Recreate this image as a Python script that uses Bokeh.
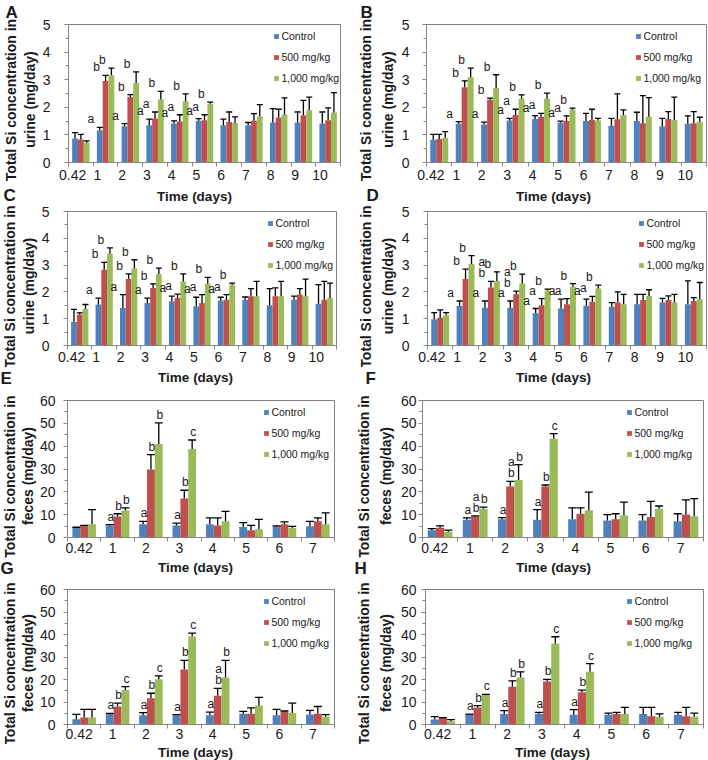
import math
from bokeh.plotting import figure
from bokeh.layouts import column, row
from bokeh.models import (ColumnDataSource, FixedTicker, SingleIntervalTicker, Label, LabelSet,
                          Legend, LegendItem, Range1d, Whisker, TeeHead, Title)
from bokeh.core.properties import value
from bokeh.embed import file_html
from bokeh.resources import INLINE

FONT = "Liberation Sans"
COLORS = ["#4F81BD", "#C0504D", "#9BBB59"]
SERIES = ["Control", "500 mg/kg", "1,000 mg/kg"]

URINE_DAYS = ["0.42", "1", "2", "3", "4", "5", "6", "7", "8", "9", "10"]
FECES_DAYS = ["0.42", "1", "2", "3", "4", "5", "6", "7"]

# ---- Panel A (urine) ----
A_ctrl = [0.87, 1.17, 1.31, 1.35, 1.41, 1.51, 1.35, 1.35, 1.45, 1.45, 1.41]
A_ctrl_sd = [0.21, 0.10, 0.10, 0.22, 0.10, 0.08, 0.22, 0.10, 0.50, 0.38, 0.42]
A_500 = [0.83, 2.95, 2.37, 1.59, 1.49, 1.53, 1.47, 1.51, 1.63, 1.71, 1.53]
A_500_sd = [0.19, 0.21, 0.09, 0.24, 0.24, 0.20, 0.36, 0.26, 0.30, 0.54, 0.45]
A_1000 = [0.72, 3.16, 2.88, 2.28, 2.22, 2.13, 1.43, 1.67, 1.73, 1.89, 1.81]
A_1000_sd = [0.06, 0.26, 0.40, 0.30, 0.27, 0.06, 0.22, 0.43, 0.61, 0.48, 0.72]
A_sig_ctrl = ["", "a", "a", "a", "a", "a", "", "", "", "", ""]
A_sig_500 = ["", "b", "b", "a", "a", "a", "", "", "", "", ""]
A_sig_1000 = ["", "b", "b", "b", "b", "b", "", "", "", "", ""]

# ---- Panel B (urine) ----
B_ctrl = [0.82, 1.40, 1.38, 1.52, 1.58, 1.44, 1.50, 1.33, 1.50, 1.30, 1.40]
B_ctrl_sd = [0.20, 0.08, 0.08, 0.08, 0.12, 0.06, 0.28, 0.27, 0.32, 0.30, 0.29]
B_500 = [0.85, 2.73, 2.27, 1.72, 1.66, 1.50, 1.54, 1.57, 1.42, 1.58, 1.42]
B_500_sd = [0.17, 0.23, 0.06, 0.21, 0.12, 0.19, 0.39, 0.92, 1.00, 0.26, 0.42]
B_1000 = [0.90, 3.09, 2.69, 2.31, 2.31, 1.91, 1.52, 1.72, 1.66, 1.54, 1.48]
B_1000_sd = [0.22, 0.33, 0.49, 0.14, 0.20, 0.06, 0.08, 0.19, 0.69, 0.83, 0.16]
B_sig_ctrl = ["", "a", "a", "a", "a", "a", "", "", "", "", ""]
B_sig_500 = ["", "b", "b", "a", "a", "a", "", "", "", "", ""]
B_sig_1000 = ["", "b", "b", "b", "b", "b", "", "", "", "", ""]

# ---- Panel C (urine) ----
C_ctrl = [0.88, 1.53, 1.40, 1.59, 1.65, 1.46, 1.67, 1.71, 1.50, 1.71, 1.56]
C_ctrl_sd = [0.47, 0.24, 0.50, 0.18, 0.19, 0.34, 0.13, 0.10, 0.62, 0.13, 0.71]
C_500 = [1.15, 2.83, 2.48, 2.15, 1.77, 1.59, 1.71, 1.84, 1.84, 1.90, 1.71]
C_500_sd = [0.07, 0.27, 0.19, 0.15, 0.15, 0.31, 0.19, 0.28, 0.31, 0.22, 0.68]
C_1000 = [1.36, 3.42, 2.87, 2.67, 2.39, 2.30, 2.27, 1.84, 1.84, 1.84, 1.77]
C_1000_sd = [0.17, 0.22, 0.33, 0.22, 0.28, 0.24, 0.06, 0.55, 0.55, 0.64, 0.56]
C_sig_ctrl = ["", "a", "a", "a", "a", "a", "a", "", "", "", ""]
C_sig_500 = ["", "b", "b", "b", "a", "a", "a", "", "", "", ""]
C_sig_1000 = ["", "b", "b", "b", "b", "b", "b", "", "", "", ""]

# ---- Panel D (urine) ----
D_ctrl = [0.98, 1.48, 1.41, 1.41, 1.20, 1.38, 1.48, 1.45, 1.54, 1.60, 1.54]
D_ctrl_sd = [0.25, 0.18, 0.25, 0.25, 0.18, 0.35, 0.25, 0.15, 0.37, 0.16, 0.87]
D_500 = [1.04, 2.48, 2.16, 1.91, 1.50, 1.54, 1.63, 1.60, 1.70, 1.70, 1.66]
D_500_sd = [0.29, 0.37, 0.23, 0.12, 0.25, 0.21, 0.20, 0.40, 0.21, 0.15, 0.13]
D_1000 = [1.13, 3.04, 2.41, 2.31, 2.05, 2.19, 2.13, 1.54, 1.85, 1.60, 1.73]
D_1000_sd = [0.10, 0.31, 0.34, 0.35, 0.05, 0.12, 0.12, 0.37, 0.23, 0.31, 0.62]
D_sig_ctrl = ["", "a", "a", "a", "a", "a", "a", "", "", "", ""]
D_sig_500 = ["", "b", "ab", "ab", "a", "a", "a", "", "", "", ""]
D_sig_1000 = ["", "b", "b", "b", "b", "b", "b", "", "", "", ""]

# ---- Panel E (feces) ----
E_ctrl = [4.3, 5.3, 5.8, 5.3, 5.8, 4.6, 4.9, 4.9]
E_ctrl_sd = [0.2, 0.3, 1.3, 1.0, 2.8, 1.9, 0.2, 2.2]
E_500 = [5.0, 9.2, 29.8, 17.1, 5.3, 3.2, 5.8, 7.1]
E_500_sd = [0.3, 1.2, 6.5, 3.6, 3.3, 2.1, 1.0, 1.5]
E_1000 = [5.8, 11.8, 41.0, 38.8, 7.1, 3.6, 4.2, 5.8]
E_1000_sd = [6.4, 1.2, 9.2, 3.9, 4.3, 4.3, 0.7, 5.0]
E_sig_ctrl = ["", "a", "a", "a", "", "", "", ""]
E_sig_500 = ["", "b", "b", "b", "", "", "", ""]
E_sig_1000 = ["", "b", "b", "c", "", "", "", ""]

# ---- Panel F (feces) ----
F_ctrl = [3.2, 7.8, 8.0, 7.8, 8.0, 7.5, 7.5, 7.1]
F_ctrl_sd = [0.7, 0.8, 0.7, 4.4, 5.0, 2.5, 2.5, 3.3]
F_500 = [4.3, 9.3, 22.3, 22.3, 10.4, 8.0, 9.0, 10.1]
F_500_sd = [0.8, 0.2, 2.3, 0.7, 2.6, 2.4, 6.8, 6.4]
F_1000 = [2.5, 12.6, 25.2, 43.3, 11.9, 9.7, 12.6, 9.3]
F_1000_sd = [0.7, 0.7, 6.7, 2.2, 8.0, 5.8, 1.2, 7.7]
F_sig_ctrl = ["", "a", "a", "a", "", "", "", ""]
F_sig_500 = ["", "ab", "ab", "b", "", "", "", ""]
F_sig_1000 = ["", "b", "b", "c", "", "", "", ""]

# ---- Panel G (feces) ----
G_ctrl = [2.3, 4.5, 4.1, 4.1, 4.1, 4.8, 4.1, 4.5]
G_ctrl_sd = [2.2, 0.4, 1.2, 0.3, 1.4, 1.0, 2.6, 1.8]
G_500 = [3.1, 8.0, 11.7, 24.5, 12.8, 4.8, 5.8, 4.8]
G_500_sd = [3.6, 1.5, 2.2, 4.0, 3.3, 2.6, 0.2, 3.2]
G_1000 = [3.1, 15.3, 20.1, 39.1, 20.9, 8.5, 5.1, 3.4]
G_1000_sd = [3.6, 1.5, 1.5, 1.5, 7.6, 3.6, 4.4, 1.0]
G_sig_ctrl = ["", "a", "a", "a", "a", "", "", ""]
G_sig_500 = ["", "b", "b", "b", "ab", "", "", ""]
G_sig_1000 = ["", "c", "c", "c", "b", "", "", ""]

# ---- Panel H (feces) ----
H_ctrl = [2.2, 4.4, 4.7, 4.7, 4.3, 4.3, 4.7, 4.3]
H_ctrl_sd = [1.3, 0.2, 1.5, 0.7, 2.3, 0.8, 2.9, 1.1]
H_500 = [2.9, 7.6, 16.8, 19.1, 14.3, 4.7, 3.7, 3.7]
H_500_sd = [0.2, 0.8, 2.6, 1.0, 1.0, 0.7, 3.9, 3.9]
H_1000 = [1.5, 13.2, 20.9, 36.0, 23.5, 4.7, 3.5, 3.5]
H_1000_sd = [0.7, 0.2, 2.5, 3.0, 3.6, 2.9, 1.2, 1.6]
H_sig_ctrl = ["", "a", "a", "a", "a", "", "", ""]
H_sig_500 = ["", "b", "b", "b", "b", "", "", ""]
H_sig_1000 = ["", "c", "b", "c", "c", "", "", ""]

URINE_TITLE = ["Total Si concentration in", "urine (mg/day)"]
FECES_TITLE = ["Total Si concentration in", "feces (mg/day)"]
X_TITLE = "Time (days)"

# ---------------- layout (page pixels) ----------------
COL_X = [(0, 354), (354, 354)]
# figure top, figure bottom, frame top, frame bottom, x-label standoff, y-title shift
ROWS = [(0, 185, 24, 162, 3, 6), (204, 367, 211, 345, 2, 7.5),
        (388, 558, 400, 537, 1, 7), (578, 744, 589, 724, 0, 6)]
# strips between the rows holding panel letters and x-axis titles: (top, bottom, texts)
STRIPS = [
    (185, 204, [("C", 3, 185, "L"), (X_TITLE, 194, 196, "T"), ("D", 366, 185, "L"), (X_TITLE, 553, 196, "T")]),
    (367, 388, [("E", 0, 368, "L"), (X_TITLE, 195, 377, "T"), ("F", 365, 368, "L"), (X_TITLE, 553, 377, "T")]),
    (558, 578, [("G", 0, 558, "L"), (X_TITLE, 195, 567, "T"), ("H", 354, 558, "L"), (X_TITLE, 553, 567, "T")]),
    (744, 760, [(X_TITLE, 195, 752, "T"), (X_TITLE, 552, 752, "T")]),
]
BW = 0.235
AXIS_GRAY = "#868686"
TXT = "#1a1a1a"
# Arial/Liberation Sans Bold advance widths (em/1000) to centre the rotated axis titles
BOLD_EM = {"T": 611, "o": 611, "t": 333, "a": 556, "l": 278, " ": 278, "S": 667, "i": 278, "c": 556,
           "n": 611, "e": 556, "r": 389, "u": 611, "(": 333, "m": 889, "g": 611, "/": 278, "d": 611,
           "y": 556, ")": 333, "f": 333, "s": 556}
YT_SIZE = 14
LETTER_SIZE = "17px"

PANELS = [
    dict(name="A", row=0, col=0, days=URINE_DAYS, means=[A_ctrl, A_500, A_1000],
         sds=[A_ctrl_sd, A_500_sd, A_1000_sd], sigs=[A_sig_ctrl, A_sig_500, A_sig_1000],
         title=URINE_TITLE, fl=65, fr=340, leg=271, ystd=14, yst=(2, 1), letter=2),
    dict(name="B", row=0, col=1, days=URINE_DAYS, means=[B_ctrl, B_500, B_1000],
         sds=[B_ctrl_sd, B_500_sd, B_1000_sd], sigs=[B_sig_ctrl, B_sig_500, B_sig_1000],
         title=URINE_TITLE, fl=424, fr=706, leg=634, ystd=13, yst=(4, 4), letter=358),
    dict(name="C", row=1, col=0, days=URINE_DAYS, means=[C_ctrl, C_500, C_1000],
         sds=[C_ctrl_sd, C_500_sd, C_1000_sd], sigs=[C_sig_ctrl, C_sig_500, C_sig_1000],
         title=URINE_TITLE, fl=64, fr=336, leg=265, ystd=14, yst=(1, 1), letter=None),
    dict(name="D", row=1, col=1, days=URINE_DAYS, means=[D_ctrl, D_500, D_1000],
         sds=[D_ctrl_sd, D_500_sd, D_1000_sd], sigs=[D_sig_ctrl, D_sig_500, D_sig_1000],
         title=URINE_TITLE, fl=425, fr=706, leg=637, ystd=14, yst=(4, 4), letter=None),
    dict(name="E", row=2, col=0, days=FECES_DAYS, means=[E_ctrl, E_500, E_1000],
         sds=[E_ctrl_sd, E_500_sd, E_1000_sd], sigs=[E_sig_ctrl, E_sig_500, E_sig_1000],
         title=FECES_TITLE, fl=63, fr=334, leg=260, ystd=8, yst=(0, 0), letter=None),
    dict(name="F", row=2, col=1, days=FECES_DAYS, means=[F_ctrl, F_500, F_1000],
         sds=[F_ctrl_sd, F_500_sd, F_1000_sd], sigs=[F_sig_ctrl, F_sig_500, F_sig_1000],
         title=FECES_TITLE, fl=422, fr=703, leg=627, ystd=2, yst=(1, 6), letter=None),
    dict(name="G", row=3, col=0, days=FECES_DAYS, means=[G_ctrl, G_500, G_1000],
         sds=[G_ctrl_sd, G_500_sd, G_1000_sd], sigs=[G_sig_ctrl, G_sig_500, G_sig_1000],
         title=FECES_TITLE, fl=63, fr=334, leg=260, ystd=8, yst=(0, 0), letter=None),
    dict(name="H", row=3, col=1, days=FECES_DAYS, means=[H_ctrl, H_500, H_1000],
         sds=[H_ctrl_sd, H_500_sd, H_1000_sd], sigs=[H_sig_ctrl, H_sig_500, H_sig_1000],
         title=FECES_TITLE, fl=425, fr=703, leg=627, ystd=5, yst=(1, 6), letter=None),
]


def text_len(txt, size):
    return sum(BOLD_EM[ch] for ch in txt) / 1000.0 * size


def make_panel(cfg):
    days = cfg["days"]
    n = len(days)
    urine = n == len(URINE_DAYS)
    x0, w = COL_X[cfg["col"]]
    y0, y1, ft, fb, xstd, shift_down = ROWS[cfg["row"]]
    fl, fr = cfg["fl"], cfg["fr"]
    fh = fb - ft
    ymax, yint = (5, 1) if urine else (60, 10)
    p = figure(width=w, height=y1 - y0, x_range=Range1d(-0.5, n - 0.5), y_range=Range1d(0, ymax),
               output_backend="svg", toolbar_location=None, title=None,
               min_border_left=fl - x0, min_border_right=x0 + w - fr,
               min_border_top=ft - y0, min_border_bottom=y1 - fb)
    p.grid.visible = False
    p.outline_line_color = "#808080"
    p.outline_line_width = 1
    p.background_fill_color = "white"
    p.border_fill_color = "white"

    items = []
    lx, ly, lt, lo = [], [], [], []
    cap = 6 if urine else 8
    for s in range(3):
        xs = [i + (s - 1) * BW for i in range(n)]
        ups = [m + e for m, e in zip(cfg["means"][s], cfg["sds"][s])]
        src = ColumnDataSource(dict(x=xs, top=cfg["means"][s], upper=ups))
        r = p.vbar(x="x", top="top", bottom=0, width=BW, source=src,
                   fill_color=COLORS[s], line_color=None)
        p.add_layout(Whisker(source=src, base="x", lower="top", upper="upper", dimension="height",
                             line_color="black", line_width=1.3, level="annotation",
                             upper_head=TeeHead(size=cap, line_color="black", line_width=1.3),
                             lower_head=None))
        items.append(LegendItem(label=SERIES[s], renderers=[r]))
        for i, sig in enumerate(cfg["sigs"][s]):
            for k, ch in enumerate(reversed(sig)):
                lx.append(xs[i]); ly.append(ups[i]); lt.append(ch); lo.append(4 + 11 * k)

    lsrc = ColumnDataSource(dict(x=lx, y=ly, t=lt, yo=lo))
    p.add_layout(LabelSet(x="x", y="y", text="t", source=lsrc, y_offset="yo",
                          x_offset=-9 if urine else 1, text_align="center",
                          text_baseline="alphabetic", text_font=value(FONT),
                          text_font_size="12px", text_color=TXT))

    # x axis: labels near category centres, tick marks at the category boundaries
    shift = 0.33 if urine else 0.15
    tpos = [round(i - shift, 3) for i in range(n)]
    xa = p.xaxis[0]
    xa.ticker = FixedTicker(ticks=tpos, minor_ticks=[i - 0.5 for i in range(n + 1)])
    xa.major_label_overrides = {t: d for t, d in zip(tpos, days)}
    xa.axis_line_color = AXIS_GRAY
    xa.major_tick_line_color = None
    xa.major_tick_in = 0
    xa.major_tick_out = 4
    xa.minor_tick_in = 0
    xa.minor_tick_out = 4
    xa.minor_tick_line_color = AXIS_GRAY
    xa.major_label_standoff = xstd
    xa.major_label_text_font = FONT
    xa.major_label_text_font_size = "14px"
    xa.major_label_text_color = TXT

    ya = p.yaxis[0]
    ya.ticker = SingleIntervalTicker(interval=yint, num_minor_ticks=2)
    ya.axis_line_color = AXIS_GRAY
    ya.major_tick_line_color = AXIS_GRAY
    ya.minor_tick_line_color = AXIS_GRAY
    ya.major_tick_in = 0
    ya.major_tick_out = 4
    ya.minor_tick_in = 0
    ya.minor_tick_out = 3
    ya.major_label_standoff = cfg["ystd"]
    ya.major_label_text_font = FONT
    ya.major_label_text_font_size = "14px"
    ya.major_label_text_color = TXT

    item_h, spacing = 14, 7
    leg_h = 3 * item_h + 2 * spacing
    legend = Legend(items=items, location=(cfg["leg"] - 0.6 - fl, fh - 5 - leg_h), margin=0,
                    padding=0, spacing=spacing, label_height=item_h, glyph_height=6, glyph_width=6,
                    label_standoff=2, label_text_font=FONT, label_text_font_size="10.5px",
                    label_text_color=TXT, border_line_color=None, background_fill_alpha=0)
    p.add_layout(legend)

    # y-axis title: two stacked left-side titles (inner line first)
    st1, st2 = cfg["yst"]
    for txt, st in ((cfg["title"][1], st2), (cfg["title"][0], st1)):
        off = (fh / 2 - shift_down) - text_len(txt, YT_SIZE) / 2
        p.add_layout(Title(text=txt, align="left", vertical_align="middle", offset=off, standoff=st,
                           text_font=FONT, text_font_style="bold", text_font_size=f"{YT_SIZE}px",
                           text_color=TXT), "left")

    if cfg["letter"] is not None:
        p.add_layout(Title(text=cfg["name"], align="left", vertical_align="top",
                           offset=cfg["letter"] - fl, standoff=2, text_font=FONT,
                           text_font_style="bold", text_font_size=LETTER_SIZE, text_color=TXT), "above")
    return p


def make_strip(top, bottom, texts):
    s = figure(width=708, height=bottom - top, x_range=Range1d(0, 708), y_range=Range1d(bottom, top),
               x_axis_type=None, y_axis_type=None, output_backend="svg", toolbar_location=None,
               title=None, min_border=0, min_border_left=0, min_border_right=0,
               min_border_top=0, min_border_bottom=0)
    s.outline_line_color = None
    s.background_fill_color = "white"
    s.border_fill_color = "white"
    for txt, x, y, kind in texts:
        if kind == "L":
            s.add_layout(Label(x=x, y=y, text=txt, text_align="left", text_baseline="top",
                               text_font=FONT, text_font_style="bold", text_font_size=LETTER_SIZE,
                               text_color=TXT))
        else:
            s.add_layout(Label(x=x, y=y, text=txt, text_align="center", text_baseline="middle",
                               text_font=FONT, text_font_style="bold", text_font_size="13.5px",
                               text_color=TXT))
    return s


figs = [make_panel(c) for c in PANELS]
strips = [make_strip(*s) for s in STRIPS]
children = []
for r in range(4):
    children.append(row(figs[2 * r], figs[2 * r + 1]))
    children.append(strips[r])
layout = column(*children)

open("out.html", "w").write(file_html(layout, INLINE, title="Total Si concentration"))
